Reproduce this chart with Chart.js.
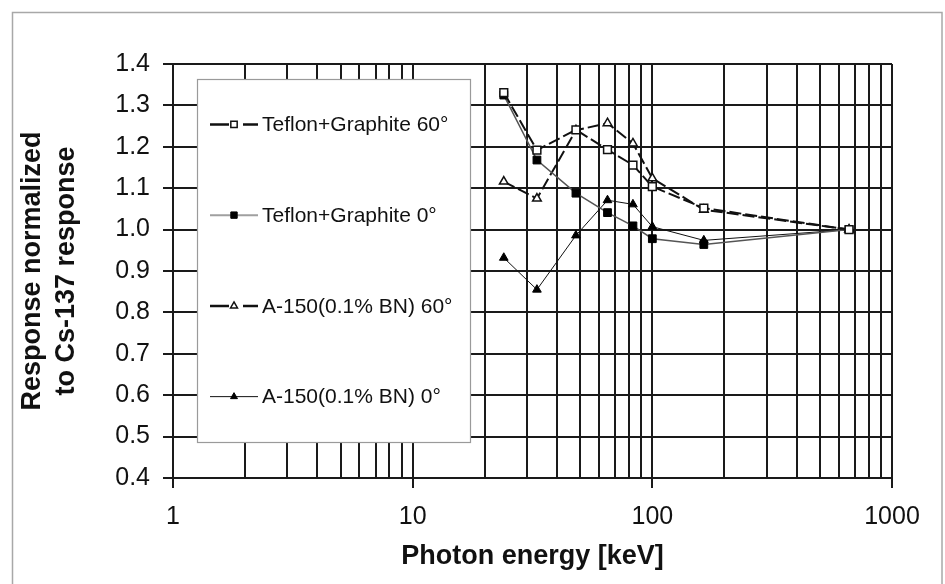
<!DOCTYPE html>
<html><head><meta charset="utf-8">
<script src="https://cdn.jsdelivr.net/npm/chart.js@4.4.1/dist/chart.umd.min.js"></script>
<style>html,body{margin:0;padding:0;background:#fff;}#wrap{position:relative;width:945px;height:584px;}</style>
</head><body><div id="wrap"><canvas id="c" width="945" height="584" style="width:945px;height:584px"></canvas></div>
<script>
// ---- data ----
const energies = [24, 33, 48, 65, 83, 100, 164, 662];
const teflon60 = [1.331, 1.192, 1.241, 1.193, 1.156, 1.104, 1.052, 1.0];
const teflon0 = [1.325, 1.168, 1.088, 1.041, 1.009, 0.978, 0.964, 1.0];
const a150_60 = [1.116, 1.075, 1.240, 1.257, 1.208, 1.124, 1.048, 1.0];
const a150_0 = [0.932, 0.855, 0.986, 1.071, 1.061, 1.007, 0.974, 1.0];
const seriesLabels = ['Teflon+Graphite 60°', 'Teflon+Graphite 0°', 'A-150(0.1% BN) 60°', 'A-150(0.1% BN) 0°'];
const yTickValues = [0.4, 0.5, 0.6, 0.7, 0.8, 0.9, 1.0, 1.1, 1.2, 1.3, 1.4];
const xTickLabels = ['1', '10', '100', '1000'];
const xAxisTitle = 'Photon energy [keV]';
const yAxisTitle = ['Response normalized', 'to Cs-137 response'];

const FONT = '"Liberation Sans", Arial, Helvetica, sans-serif';
const GRID = '#1a1a1a';

function pts(vals) { return energies.map((e, i) => ({x: e, y: vals[i]})); }

const datasets = [
  {label: seriesLabels[0], data: pts(teflon60), borderColor: '#111', borderWidth: 2, borderDash: [12, 4],
   pointStyle: 'rect', pointRadius: 5.5, pointBackgroundColor: '#fff', pointBorderColor: '#111', pointBorderWidth: 1.5},
  {label: seriesLabels[1], data: pts(teflon0), borderColor: '#555', borderWidth: 1.5,
   pointStyle: 'rect', pointRadius: 5.5, pointBackgroundColor: '#000', pointBorderColor: '#000', pointBorderWidth: 1},
  {label: seriesLabels[2], data: pts(a150_60), borderColor: '#111', borderWidth: 2, borderDash: [12, 4],
   pointStyle: 'triangle', pointRadius: 5, pointBackgroundColor: '#fff', pointBorderColor: '#111', pointBorderWidth: 1.5},
  {label: seriesLabels[3], data: pts(a150_0), borderColor: '#111', borderWidth: 1,
   pointStyle: 'triangle', pointRadius: 5, pointBackgroundColor: '#000', pointBorderColor: '#000', pointBorderWidth: 1}
];
datasets.forEach(d => { d.tension = 0; d.fill = false; d.pointHoverRadius = d.pointRadius; });

const isDecade = v => [1, 10, 100, 1000].includes(Math.round(v));

const frame = {
  id: 'frame',
  beforeDraw(chart) {
    const ctx = chart.ctx;
    ctx.save();
    ctx.fillStyle = '#fff';
    ctx.fillRect(0, 0, chart.width, chart.height);
    ctx.strokeStyle = '#a8a8a8';
    ctx.lineWidth = 1.5;
    ctx.strokeRect(12.5, 12.5, 929.5, 585);
    ctx.restore();
  }
};

const boxLegend = {
  id: 'boxLegend',
  afterDatasetsDraw(chart) {
    const ctx = chart.ctx;
    const L = 197, T = 79, R = 470, B = 442;
    ctx.save();
    ctx.fillStyle = '#fff';
    ctx.fillRect(L, T, R - L, B - T);
    ctx.strokeStyle = '#9a9a9a';
    ctx.lineWidth = 1.2;
    ctx.strokeRect(L + 0.5, T + 0.5, R - L, B - T);
    const step = (B - T) / chart.data.datasets.length;
    chart.data.datasets.forEach((ds, i) => {
      const cy = T + step * (i + 0.5);
      ctx.save();
      ctx.strokeStyle = i === 1 ? '#a0a0a0' : ds.borderColor;
      ctx.lineWidth = ds.borderWidth + (i === 3 ? 0 : 0.5);
      ctx.setLineDash([]);
      ctx.beginPath();
      ctx.moveTo(210, cy); ctx.lineTo(229, cy);
      ctx.moveTo(i === 1 || i === 3 ? 229 : 243, cy); ctx.lineTo(258, cy);
      ctx.stroke();
      ctx.restore();
      ctx.save();
      ctx.fillStyle = ds.pointBackgroundColor;
      ctx.strokeStyle = ds.pointBorderColor;
      ctx.lineWidth = ds.pointBorderWidth;
      Chart.helpers.drawPoint(ctx, {pointStyle: ds.pointStyle, radius: ds.pointRadius - 1, rotation: 0, borderWidth: ds.pointBorderWidth}, 234, cy);
      ctx.restore();
      ctx.fillStyle = '#111';
      ctx.font = '21px ' + FONT;
      ctx.textBaseline = 'middle';
      ctx.textAlign = 'left';
      ctx.fillText(ds.label, 262, cy + 1);
    });
    ctx.restore();
  }
};

new Chart(document.getElementById('c'), {
  type: 'line',
  data: {datasets},
  plugins: [frame, boxLegend],
  options: {
    responsive: false,
    animation: false,
    devicePixelRatio: 1,
    layout: {padding: {left: 0, top: 64, right: 53, bottom: 0}},
    plugins: {legend: {display: false}, tooltip: {enabled: false}},
    scales: {
      x: {
        type: 'logarithmic', min: 1, max: 1000,
        afterBuildTicks(scale) {
          const t = [];
          [1, 10, 100].forEach(d => { for (let m = 1; m <= 9; m++) t.push({value: m * d}); });
          t.push({value: 1000});
          scale.ticks = t;
        },
        afterFit(scale) { scale.height = 106; },
        ticks: {
          autoSkip: false, maxRotation: 0, padding: 14, color: '#111',
          font: {family: FONT, size: 25},
          callback(v) { const r = Math.round(v); return isDecade(r) ? xTickLabels[[1, 10, 100, 1000].indexOf(r)] : ''; }
        },
        grid: {color: GRID, lineWidth: 2, tickLength: 10,
               tickColor: c => (c.tick && isDecade(c.tick.value)) ? GRID : 'rgba(0,0,0,0)', tickWidth: 2},
        border: {color: GRID, width: 2},
        title: {display: true, text: xAxisTitle, color: '#111',
                font: {family: FONT, size: 27, weight: 'bold'}, padding: {top: 0, bottom: 11}}
      },
      y: {
        min: 0.4, max: 1.4,
        afterBuildTicks(scale) { scale.ticks = yTickValues.map(v => ({value: v})); },
        afterFit(scale) { scale.width = 173; },
        ticks: {padding: 13, color: '#111', font: {family: FONT, size: 25},
                callback: v => Number(v).toFixed(1)},
        grid: {color: GRID, lineWidth: 2, tickLength: 10, tickColor: GRID, tickWidth: 2},
        border: {color: GRID, width: 2},
        title: {display: true, text: yAxisTitle, color: '#111',
                font: {family: FONT, size: 27, weight: 'bold', lineHeight: 1.26}, padding: {top: 16, bottom: 0}}
      }
    }
  }
});
</script></body></html>
